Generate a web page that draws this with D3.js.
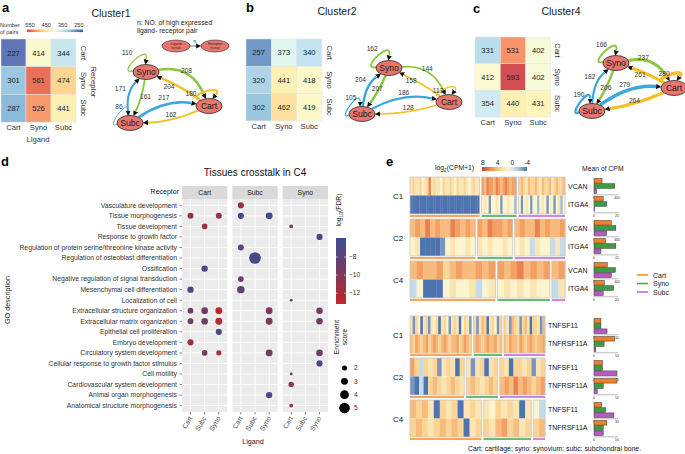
<!DOCTYPE html>
<html><head><meta charset="utf-8">
<script src="https://cdn.jsdelivr.net/npm/d3@7/dist/d3.min.js"></script>
<style>body{margin:0;background:#fff}svg{display:block;font-family:"Liberation Sans",Arial,Helvetica,sans-serif}</style>
</head><body><svg id="c" width="685" height="454"></svg>
<script>
// ================= DATA =================
const tissues = ["Cart","Syno","Subc"];
// rows = receptor tissue, cols = ligand tissue
const pairs1 = [[227,414,344],[301,561,474],[287,526,441]];
const pairs2 = [[257,373,340],[320,441,418],[302,462,419]];
const pairs4 = [[331,531,402],[412,593,402],[354,440,431]];
const pairLegendTicks = [550,450,350,250];

// network edges: [ligand tissue, receptor tissue, n]
const edges1 = [["Syno","Syno",110],["Syno","Cart",208],["Cart","Syno",204],["Cart","Cart",180],["Syno","Subc",161],["Subc","Syno",171],["Subc","Subc",86],["Subc","Cart",217],["Cart","Subc",162]];
const edges2 = [["Syno","Syno",162],["Syno","Cart",144],["Cart","Syno",158],["Cart","Cart",113],["Syno","Subc",207],["Subc","Syno",204],["Subc","Subc",105],["Subc","Cart",186],["Cart","Subc",128]];
const edges4 = [["Syno","Syno",166],["Syno","Cart",237],["Cart","Syno",261],["Cart","Cart",280],["Syno","Subc",206],["Subc","Syno",182],["Subc","Subc",190],["Subc","Cart",279],["Cart","Subc",264]];

// GO dot plot
const goTerms = ["Vasculature development","Tissue morphogenesis","Tissue development","Response to growth factor","Regulation of protein serine/threonine kinase activity","Regulation of osteoblast differentiation","Ossification","Negative regulation of signal transduction","Mesenchymal cell differentiation","Localization of cell","Extracellular structure organization","Extracellular matrix organization","Epithelial cell proliferation","Embryo development","Circulatory system development","Cellular response to growth factor stimulus","Cell motility","Cardiovascular system development","Animal organ morphogenesis","Anatomical structure morphogenesis"];
const receptors = ["Cart","Subc","Syno"];
const ligands = ["Cart","Subc","Syno"];
// [receptor, ligand, term index, log10(FDR), enrichment score]
const goDots = [
 ["Cart","Cart",1,-11,2.5],["Cart","Syno",1,-10.5,2.5],["Cart","Subc",2,-11.5,2.3],["Cart","Subc",6,-7,2.7],
 ["Cart","Cart",8,-7.2,2.7],["Cart","Cart",10,-9.5,2.4],["Cart","Subc",10,-9.3,2.9],["Cart","Syno",10,-12.5,3.0],
 ["Cart","Cart",11,-9.5,2.4],["Cart","Subc",11,-9.3,2.9],["Cart","Syno",11,-12.5,3.0],["Cart","Syno",12,-7.2,2.6],
 ["Cart","Cart",13,-11.5,2.6],["Cart","Subc",14,-9.8,2.3],["Cart","Syno",14,-11.8,2.0],
 ["Subc","Cart",0,-11.5,2.6],["Subc","Cart",1,-7,2.6],["Subc","Syno",1,-6.8,3.0],["Subc","Cart",4,-8,2.5],
 ["Subc","Subc",5,-6.8,5.6],["Subc","Cart",7,-8.7,2.4],["Subc","Cart",8,-8.5,3.3],["Subc","Syno",10,-10,3.0],
 ["Subc","Syno",11,-10,3.0],["Subc","Syno",14,-9.5,3.0],["Subc","Syno",18,-7.2,2.7],
 ["Syno","Cart",2,-10.5,1.3],["Syno","Syno",3,-7,2.6],["Syno","Cart",9,-9,0.8],["Syno","Syno",10,-9.5,2.8],
 ["Syno","Syno",11,-9.5,2.8],["Syno","Syno",14,-9.5,2.8],["Syno","Syno",15,-7,2.6],["Syno","Cart",16,-9,0.8],
 ["Syno","Cart",17,-10.5,2.2],["Syno","Cart",19,-11.5,1.3]
];
const fdrTicks = [-8,-10,-12];
const sizeTicks = [2,3,4,5];

// Heatmap e: log2(CPM+1) per sample, sections [Cart, Syno, Subc]
const c1_VCAN  = [[2,3,2,2,3,1,2,3,6,2,3,2,2,1,3,2,2,3,2,1,3,2,2,3,2,1,2,3,2,2],[5,4,6,5,5,4,6,5,4,5,6,5,4,5,5],[3,4,3,2,4,3,3,4,3,2,4,3,3,4,2,3,4,3,3,4]];
const c1_ITGA4 = [[-4,-4,-4,-4,-4,-4,-4,-4,-4,-4,-4,-4,-4,-4,-4,-4,-4,-4,-4,-4,-4,-4,-4,-4,-4,-4,-4,-4,-4,-4],[1,2,1,-3,1,1,2,1,-3,1,1,2,1,1,-2],[1,-3,1,2,1,-3,1,1,-2,1,2,1,-3,1,1,-3,1,2,-2,1]];
const c2_VCAN  = [[4,5,4,6,4,5,4,4,6,5,4,5,4],[5,4,6,5,5,4,5],[4,5,4,4,6,4,5,4,4,5]];
const c2_ITGA4 = [[1,2,-4,-4,-4,-4,-3,1,2,1,1,2,1],[2,1,2,1,1,2,1],[1,2,1,-1,2,1,1,-1,2,-1]];
const c4_VCAN  = [[4,5,4,4,5,3,4,5,4,4,5,4,5],[5,4,5,6,4,5,4,5],[4,5]];
const c4_ITGA4 = [[-1,1,-4,-4,-4,1,2,1,1,2,-1,1,2],[1,2,1,2,1,2,1,1],[-1,2]];
const c1_TNFSF11   = [[2,-3,3,1,-4,2,3,-3,2,1,3,-4,2,3,1,-3,2,3,2,-4,1,3,2,-3],[3,-3,2,4,3,-4,2,3,1,-3,3],[3,2,-3,4,3,2,-3,3,4,2,-4,3,3,2,-3,4]];
const c1_TNFRSF11A = [[4,3,5,4,3,4,5,3,4,5,4,3,4,5,4,3,4,4,5,3,4,5,4,3],[4,5,4,3,4,5,4,4,5,3,4],[4,3,5,4,4,3,5,4,3,4,5,4,3,4,4,5]];
const c2_TNFSF11   = [[5,3,-1,3,2,3,-3,2,3,2,-4,3],[2,-3,2,3,-4,2,3],[3,2,-4,3,3,2,3,-3,2,3]];
const c2_TNFRSF11A = [[-3,-4,-1,-4,3,4,3,2,3,4,3,2],[3,4,3,2,3,4,3],[4,5,4,6,4,5,4,3,4,5]];
const c4_TNFSF11   = [[4,3,4,2,-4,3,2,3,-4,2,3,2],[2,1,3,2,3,2,-4,2],[1,-1]];
const c4_TNFRSF11A = [[3,4,3,2,3,4,3,4,3,-4,2,3],[3,2,4,5,3,4,2,3],[3,4]];
const hmLegendTicks = [8,4,0,-4];

// Mean of CPM: [Cart, Syno, Subc] and axis max
const cpm_c1_VCAN = [140,360,45],  max_VCAN = 400;
const cpm_c1_ITGA4 = [8,11,0.6],   max_ITGA4 = 20;
const cpm_c2_VCAN = [300,380,220];
const cpm_c2_ITGA4 = [10,19,6];
const cpm_c4_VCAN = [230,370,300];
const cpm_c4_ITGA4 = [9,17,8];
const cpm_c1_TNFSF11 = [9,9,17], max_TNFSF11 = 30;
const cpm_c1_TNFRSF11A = [45,22,4], max_TNFRSF11A = 50;
const cpm_c2_TNFSF11 = [11,11,30];
const cpm_c2_TNFRSF11A = [50,20,7];
const cpm_c4_TNFSF11 = [10,15,26];
const cpm_c4_TNFRSF11A = [28,20,20];

// ================= DRAW =================
const svg = d3.select("#c");
const defs = svg.append("defs");
const tcol = {Cart:"#f07f2a", Syno:"#3c9b44", Subc:"#b35cc2"};
const edgeCol = {Cart:"#f5c026", Syno:"#8cc63e", Subc:"#3ba7db"};

function txt(g, x, y, s, o={}) {
  const t = g.append("text").attr("x",x).attr("y",y).text(s)
    .attr("font-size", o.size||7).attr("fill", o.fill||"#222")
    .attr("text-anchor", o.anchor||"start");
  if (o.weight) t.attr("font-weight", o.weight);
  if (o.rot!==undefined) t.attr("transform", `rotate(${o.rot},${x},${y})`);
  return t;
}

// ---- panel letters & titles
txt(svg,2,12,"a",{size:13,weight:"bold",fill:"#000"});
txt(svg,246,12,"b",{size:13,weight:"bold",fill:"#000"});
txt(svg,473,13,"c",{size:13,weight:"bold",fill:"#000"});
txt(svg,1,166,"d",{size:13,weight:"bold",fill:"#000"});
txt(svg,386,166,"e",{size:13,weight:"bold",fill:"#000"});
txt(svg,111,17,"Cluster1",{size:10.5,anchor:"middle"});
txt(svg,337,15,"Cluster2",{size:10.5,anchor:"middle"});
txt(svg,561,15,"Cluster4",{size:10.5,anchor:"middle"});

// ---- pair heatmaps
const pairColor = d3.scaleSequential(d3.interpolateRdYlBu).domain([625,205]);
function pairHeat(data, x0, y0, w, h, labX, labY) {
  const g = svg.append("g");
  const xs = d3.scaleBand().domain(tissues).range([x0, x0+3*w]);
  const ys = d3.scaleBand().domain(tissues).range([y0, y0+3*h]);
  data.forEach((row,i)=>row.forEach((v,j)=>{
    g.append("rect").attr("x",xs(tissues[j])).attr("y",ys(tissues[i]))
      .attr("width",xs.bandwidth()).attr("height",ys.bandwidth())
      .attr("fill",pairColor(v)).attr("fill-opacity",0.82).attr("stroke","#e6e6e6").attr("stroke-width",0.5);
    txt(g, xs(tissues[j])+xs.bandwidth()/2, ys(tissues[i])+ys.bandwidth()/2+2.7, v, {size:7.6,anchor:"middle",fill:"#222"});
  }));
  tissues.forEach(t=>{
    txt(g, xs(t)+xs.bandwidth()/2, labY, t, {size:7.6,anchor:"middle",fill:"#333"});
    txt(g, labX, ys(t)+ys.bandwidth()/2, t, {size:7.6,anchor:"middle",fill:"#333",rot:90});
  });
}
pairHeat(pairs1, 1, 39, 25, 27.7, 81, 130);
pairHeat(pairs2, 246, 39, 25.3, 27.3, 327, 129);
pairHeat(pairs4, 475, 37, 25.3, 26.7, 555, 125);
txt(svg, 91, 82, "Receptor", {size:7.6,anchor:"middle",fill:"#333",rot:90});
txt(svg, 38, 142, "Ligand", {size:7.6,anchor:"middle",fill:"#333"});
// legend
txt(svg,0,27,"Number",{size:5.6,fill:"#333"});
txt(svg,0,34,"of pairs",{size:5.6,fill:"#333"});
const lgScale = d3.scaleLinear().domain([568,225]).range([27,83]);
const lg1 = defs.append("linearGradient").attr("id","lgPairs");
d3.range(0,1.0001,0.1).forEach(t=>{
  lg1.append("stop").attr("offset",t).attr("stop-color",pairColor(lgScale.invert(27+56*t)));
});
svg.append("rect").attr("x",27).attr("y",29.5).attr("width",56).attr("height",2.6).attr("fill","url(#lgPairs)");
pairLegendTicks.forEach(v=>txt(svg, lgScale(v), 27, v, {size:5.6,anchor:"middle",fill:"#333"}));

// ---- networks
defs.append("marker").attr("id","arr").attr("markerUnits","userSpaceOnUse")
  .attr("markerWidth",6).attr("markerHeight",6).attr("refX",0).attr("refY",2.6).attr("orient","auto")
  .append("path").attr("d","M0,0L5.2,2.6L0,5.2Z").attr("fill","#111");
const wScale = d3.scaleLinear().domain([80,290]).range([0.8,3.6]);
function ellPt(n, ux, uy) {
  const L = Math.hypot(ux,uy); ux/=L; uy/=L;
  const t = 1/Math.sqrt((ux/n.rx)**2 + (uy/n.ry)**2);
  return [n.x+ux*t, n.y+uy*t];
}
function shorten(p, c, d) {
  const dx=c[0]-p[0], dy=c[1]-p[1], L=Math.hypot(dx,dy);
  return [p[0]+dx/L*d, p[1]+dy/L*d];
}
function network(nodes, edges, shapes) {
  const g = svg.append("g");
  const lab = [];
  edges.forEach((e,i)=>{
    const s = shapes[i], A = nodes[e[0]], B = nodes[e[1]];
    let d, mid;
    if (e[0]===e[1]) {
      const a = s.ang*Math.PI/180, sp = 40*Math.PI/180, R = s.size;
      const p0 = ellPt(A, Math.cos(a-sp), Math.sin(a-sp));
      const p3 = ellPt(A, Math.cos(a+sp), Math.sin(a+sp));
      const c1 = [A.x+R*Math.cos(a-sp*1.3), A.y+R*Math.sin(a-sp*1.3)];
      const c2 = [A.x+R*Math.cos(a+sp*1.3), A.y+R*Math.sin(a+sp*1.3)];
      const pe = shorten(p3, c2, 5);
      d = `M${p0}C${c1} ${c2} ${pe}`;
      mid = [(p0[0]+3*c1[0]+3*c2[0]+p3[0])/8, (p0[1]+3*c1[1]+3*c2[1]+p3[1])/8];
    } else {
      const dx=B.x-A.x, dy=B.y-A.y, L=Math.hypot(dx,dy);
      const c = [(A.x+B.x)/2 - dy/L*s.bend, (A.y+B.y)/2 + dx/L*s.bend];
      const p0 = ellPt(A, c[0]-A.x, c[1]-A.y);
      const p2 = ellPt(B, c[0]-B.x, c[1]-B.y);
      const pe = shorten(p2, c, 5);
      d = `M${p0}Q${c} ${pe}`;
      mid = [0.25*p0[0]+0.5*c[0]+0.25*p2[0], 0.25*p0[1]+0.5*c[1]+0.25*p2[1]];
    }
    g.append("path").attr("d",d).attr("fill","none").attr("stroke",edgeCol[e[0]])
      .attr("stroke-width",wScale(e[2])).attr("marker-end","url(#arr)");
    lab.push([mid[0]+(s.dx||0), mid[1]+(s.dy||0), e[2]]);
  });
  Object.entries(nodes).forEach(([k,n])=>{
    g.append("ellipse").attr("cx",n.x).attr("cy",n.y).attr("rx",n.rx).attr("ry",n.ry)
      .attr("fill","#e8766e").attr("stroke","#2a2a2a").attr("stroke-width",0.8);
    txt(g, n.x, n.y+3, k, {size:8.6,anchor:"middle",fill:"#1a1a1a"});
  });
  lab.forEach(l=>txt(g, l[0], l[1]+2.4, l[2], {size:6.6,anchor:"middle",fill:"#333"}));
}
const nd = (x,y)=>({x,y,rx:13,ry:7.5});
network({Syno:nd(146,72),Cart:nd(209,106),Subc:nd(130,123)}, edges1, [
  {ang:-135,size:31,dx:-7,dy:-8},{bend:-28,dx:0,dy:-4},{bend:4,dx:-10,dy:0},{ang:-105,size:28,dx:-14,dy:2},
  {bend:-4,dx:5,dy:-2},{bend:-14,dx:-9,dy:-7},{ang:-145,size:27,dx:1,dy:-8},{bend:-16,dx:-3,dy:-7},{bend:-8,dx:0,dy:-5}]);
network({Syno:nd(389,68),Cart:nd(449,102),Subc:nd(362,114)}, edges2, [
  {ang:-135,size:31,dx:-5,dy:-8},{bend:-24,dx:0,dy:-4},{bend:3,dx:-9,dy:-3},{ang:-110,size:26,dx:-6,dy:1},
  {bend:-3,dx:0,dy:-3},{bend:-12,dx:-8,dy:-8},{ang:-145,size:27,dx:1,dy:-8},{bend:-16,dx:0,dy:-6},{bend:-6,dx:2,dy:-4}]);
network({Syno:nd(616,63),Cart:nd(674,88),Subc:nd(592,111)}, edges4, [
  {ang:-135,size:30,dx:-3,dy:-8},{bend:-22,dx:-8,dy:-5},{bend:3,dx:-6,dy:1},{ang:-110,size:26,dx:-5,dy:-2},
  {bend:-3,dx:0,dy:0},{bend:-12,dx:-7,dy:-7},{ang:-145,size:27,dx:-1,dy:-8},{bend:-16,dx:-5,dy:-5},{bend:-6,dx:0,dy:-2}]);
// small key in panel a
txt(svg,137,25,"n: NO. of  high expressed",{size:6.8,fill:"#222"});
txt(svg,137,33,"ligand- receptor pair",{size:6.8,fill:"#222"});
[["Ligand","tissue",176],["Receptor","tissue",215]].forEach(k=>{
  svg.append("ellipse").attr("cx",k[2]).attr("cy",46).attr("rx",14).attr("ry",6).attr("fill","#e8766e").attr("stroke","#2a2a2a").attr("stroke-width",0.6);
  txt(svg,k[2],45,k[0],{size:3.6,anchor:"middle"});
  txt(svg,k[2],49,k[1],{size:3.6,anchor:"middle"});
});
svg.append("path").attr("d","M190,46L196,46").attr("stroke","#111").attr("stroke-width",0.6).attr("marker-end","url(#arr)");
txt(svg,195,43,"n",{size:5,anchor:"middle"});

// ---- panel d: GO dot plot
txt(svg,255,176,"Tissues crosstalk in C4",{size:10,anchor:"middle",fill:"#111"});
const panelX = d3.scaleBand().domain(receptors).range([182,328]).paddingInner(0.1);
const goY = d3.scalePoint().domain(d3.range(goTerms.length)).range([205.3,405.6]);
const fdrColor = d3.scaleLinear().domain([-13.2,-9.6,-5.9]).range(["#c3252a","#763a60","#3a4e97"]);
const rScale = d3.scaleLinear().domain([1,5]).range([1.6,5.3]);
const gd = svg.append("g");
txt(gd,179,194,"Receptor",{size:7,anchor:"end",fill:"#222"});
receptors.forEach(r=>{
  const x0 = panelX(r), bw = panelX.bandwidth();
  gd.append("rect").attr("x",x0).attr("y",186).attr("width",bw).attr("height",13).attr("fill","#d9d9d9");
  txt(gd,x0+bw/2,195,r,{size:6.8,anchor:"middle",fill:"#1a1a1a"});
  gd.append("rect").attr("x",x0).attr("y",199).attr("width",bw).attr("height",213).attr("fill","#ebebeb");
  const cx = d3.scalePoint().domain(ligands).range([x0+bw*0.1875, x0+bw*0.8125]);
  goTerms.forEach((t,i)=>gd.append("line").attr("x1",x0).attr("x2",x0+bw).attr("y1",goY(i)).attr("y2",goY(i)).attr("stroke","#fff").attr("stroke-width",0.9));
  ligands.forEach(l=>{
    gd.append("line").attr("x1",cx(l)).attr("x2",cx(l)).attr("y1",199).attr("y2",412).attr("stroke","#fff").attr("stroke-width",0.9);
    gd.append("line").attr("x1",cx(l)).attr("x2",cx(l)).attr("y1",412).attr("y2",414.5).attr("stroke","#333").attr("stroke-width",0.6);
    txt(gd,cx(l)+2,418,l,{size:6.8,anchor:"end",fill:"#4d4d4d",rot:-60});
  });
  goDots.filter(d=>d[0]===r).forEach(d=>{
    gd.append("circle").attr("cx",cx(d[1])).attr("cy",goY(d[2])).attr("r",rScale(d[4])).attr("fill",fdrColor(d[3]));
  });
});
goTerms.forEach((t,i)=>{
  txt(gd,177,goY(i)+2.4,t,{size:6.8,anchor:"end",fill:"#333"});
  gd.append("line").attr("x1",179.5).attr("x2",182).attr("y1",goY(i)).attr("y2",goY(i)).attr("stroke","#333").attr("stroke-width",0.6);
});
txt(gd,253,444,"Ligand",{size:7.2,anchor:"middle",fill:"#222"});
txt(gd,10,300,"GO description",{size:7.2,anchor:"middle",fill:"#222",rot:-90});
// FDR legend
const lt = gd.append("text").attr("transform","translate(341,210) rotate(-90)").attr("text-anchor","middle").attr("font-size",6.8).attr("fill","#222");
lt.append("tspan").text("log");
lt.append("tspan").text("10").attr("font-size",4.8).attr("dy",2);
lt.append("tspan").text("(FDR)").attr("dy",-2);
const fdrY = d3.scaleLinear().domain([-5.9,-13.2]).range([238,304]);
const lg2 = defs.append("linearGradient").attr("id","lgFdr").attr("x1",0).attr("x2",0).attr("y1",0).attr("y2",1);
d3.range(0,1.0001,0.1).forEach(t=>lg2.append("stop").attr("offset",t).attr("stop-color",fdrColor(fdrY.invert(238+66*t))));
gd.append("rect").attr("x",336).attr("y",238).attr("width",10).attr("height",66).attr("fill","url(#lgFdr)");
fdrTicks.forEach(v=>{
  gd.append("line").attr("x1",336).attr("x2",338).attr("y1",fdrY(v)).attr("y2",fdrY(v)).attr("stroke","#fff").attr("stroke-width",0.6);
  gd.append("line").attr("x1",344).attr("x2",346).attr("y1",fdrY(v)).attr("y2",fdrY(v)).attr("stroke","#fff").attr("stroke-width",0.6);
  txt(gd,349,fdrY(v)+2.3,"\u2212"+Math.abs(v),{size:6.6,fill:"#333"});
});
const et = gd.append("text").attr("transform","translate(342,337) rotate(-90)").attr("text-anchor","middle").attr("font-size",6.8).attr("fill","#222");
et.append("tspan").attr("x",0).attr("dy",-3).text("Enrichment");
et.append("tspan").attr("x",0).attr("dy",7.5).text("score");
const sY = d3.scalePoint().domain(sizeTicks).range([368,408]);
sizeTicks.forEach(v=>{
  gd.append("circle").attr("cx",344.5).attr("cy",sY(v)).attr("r",rScale(v)).attr("fill","#000");
  txt(gd,354,sY(v)+2.3,v,{size:6.6,fill:"#333"});
});

// ---- panel e: heatmaps
const hmColor = d3.scaleLinear().domain([-4,-1,1,3,5,8]).range(["#4e74b0","#c4dbea","#fcf4cd","#fad597","#f3a062","#d5432d"]);
const ge = svg.append("g");
const lt2 = ge.append("text").attr("x",435).attr("y",170).attr("font-size",6.8).attr("fill","#222");
lt2.append("tspan").text("log");
lt2.append("tspan").text("2").attr("font-size",4.8).attr("dy",2);
lt2.append("tspan").text("(CPM+1)").attr("dy",-2);
const hmLg = d3.scaleLinear().domain([8,-4]).range([483,527]);
const lg3 = defs.append("linearGradient").attr("id","lgHm");
d3.range(0,1.0001,0.1).forEach(t=>lg3.append("stop").attr("offset",t).attr("stop-color",hmColor(hmLg.invert(483+44*t))));
ge.append("rect").attr("x",482).attr("y",167).attr("width",45).attr("height",4).attr("fill","url(#lgHm)");
hmLegendTicks.forEach(v=>txt(ge,hmLg(v),164.5,v<0?"-"+Math.abs(v):v,{size:6.8,anchor:"middle",fill:"#222"}));
txt(ge,582,171,"Mean of CPM",{size:6.8,fill:"#222"});

function heatGroup(x0, x1, top, rowH, rows, genes, label) {
  const gap = 2;
  const nsec = rows[0].length;
  const ncol = d3.sum(rows[0], s=>s.length);
  const colW = (x1-x0-gap*(nsec-1))/ncol;
  let xs = x0;
  rows[0].forEach((sec,si)=>{
    const w = sec.length*colW;
    const xb = d3.scaleBand().domain(d3.range(sec.length)).range([xs, xs+w]);
    rows.forEach((r,ri)=>{
      r[si].forEach((v,ci)=>{
        ge.append("rect").attr("x",xb(ci)).attr("y",top+ri*rowH).attr("width",xb.bandwidth()+0.3).attr("height",rowH)
          .attr("fill",hmColor(v));
      });
    });
    ge.append("rect").attr("x",xs).attr("y",top).attr("width",w).attr("height",rowH*rows.length)
      .attr("fill","none").attr("stroke","#c9c9c9").attr("stroke-width",0.8);
    ge.append("rect").attr("x",xs).attr("y",top+rowH*rows.length+1.2).attr("width",w).attr("height",1.6)
      .attr("fill",d3.color(tcol[tissues[si]]).brighter(0.3));
    xs += w + gap;
  });
  genes.forEach((gn,i)=>txt(ge,x1+3,top+rowH*(i+0.5)+2.5,gn,{size:7,fill:"#111"}));
  txt(ge,393,top+rowH+3,label,{size:8,fill:"#111"});
}
function bars(cy, vals, max) {
  const x = d3.scaleLinear().domain([0,max]).range([594,617]);
  const y = d3.scaleBand().domain(tissues).range([cy-7.5, cy+7.5]).paddingInner(0.12);
  tissues.forEach((t,i)=>ge.append("rect").attr("x",x(0)).attr("y",y(t)).attr("width",x(vals[i])-x(0)).attr("height",y.bandwidth())
    .attr("fill",tcol[t]).attr("stroke","#333").attr("stroke-width",0.5));
  ge.append("line").attr("x1",x(0)).attr("x2",x(max)+1).attr("y1",cy+8.8).attr("y2",cy+8.8).attr("stroke","#aaa").attr("stroke-width",0.8);
  txt(ge,x(0),cy+12.5,0,{size:3.4,anchor:"middle",fill:"#333"});
  txt(ge,x(max),cy+12.5,max,{size:3.4,anchor:"middle",fill:"#333"});
}
const rh = 18.5;
heatGroup(410,565,177,rh,[c1_VCAN,c1_ITGA4],["VCAN","ITGA4"],"C1");
heatGroup(410,565,219,rh,[c2_VCAN,c2_ITGA4],["VCAN","ITGA4"],"C2");
heatGroup(410,565,261,rh,[c4_VCAN,c4_ITGA4],["VCAN","ITGA4"],"C4");
heatGroup(410,545,316,rh,[c1_TNFSF11,c1_TNFRSF11A],["TNFSF11","TNFRSF11A"],"C1");
heatGroup(410,545,358,rh,[c2_TNFSF11,c2_TNFRSF11A],["TNFSF11","TNFRSF11A"],"C2");
heatGroup(410,545,400,rh,[c4_TNFSF11,c4_TNFRSF11A],["TNFSF11","TNFRSF11A"],"C4");
bars(186,cpm_c1_VCAN,max_VCAN); bars(204,cpm_c1_ITGA4,max_ITGA4);
bars(228,cpm_c2_VCAN,max_VCAN); bars(246,cpm_c2_ITGA4,max_ITGA4);
bars(270,cpm_c4_VCAN,max_VCAN); bars(288,cpm_c4_ITGA4,max_ITGA4);
bars(326,cpm_c1_TNFSF11,max_TNFSF11); bars(344,cpm_c1_TNFRSF11A,max_TNFRSF11A);
bars(368,cpm_c2_TNFSF11,max_TNFSF11); bars(386,cpm_c2_TNFRSF11A,max_TNFRSF11A);
bars(410,cpm_c4_TNFSF11,max_TNFSF11); bars(428,cpm_c4_TNFRSF11A,max_TNFRSF11A);
// legend
tissues.forEach((t,i)=>{
  ge.append("line").attr("x1",637).attr("x2",648).attr("y1",275+i*8.5).attr("y2",275+i*8.5).attr("stroke",d3.color(tcol[t]).brighter(0.3)).attr("stroke-width",1.6);
  txt(ge,653,277.5+i*8.5,t,{size:7,fill:"#222"});
});
txt(ge,468,451,"Cart: cartilage; syno:  synovium;  subc: subchondral bone.",{size:6.9,fill:"#111"});
</script></body></html>
